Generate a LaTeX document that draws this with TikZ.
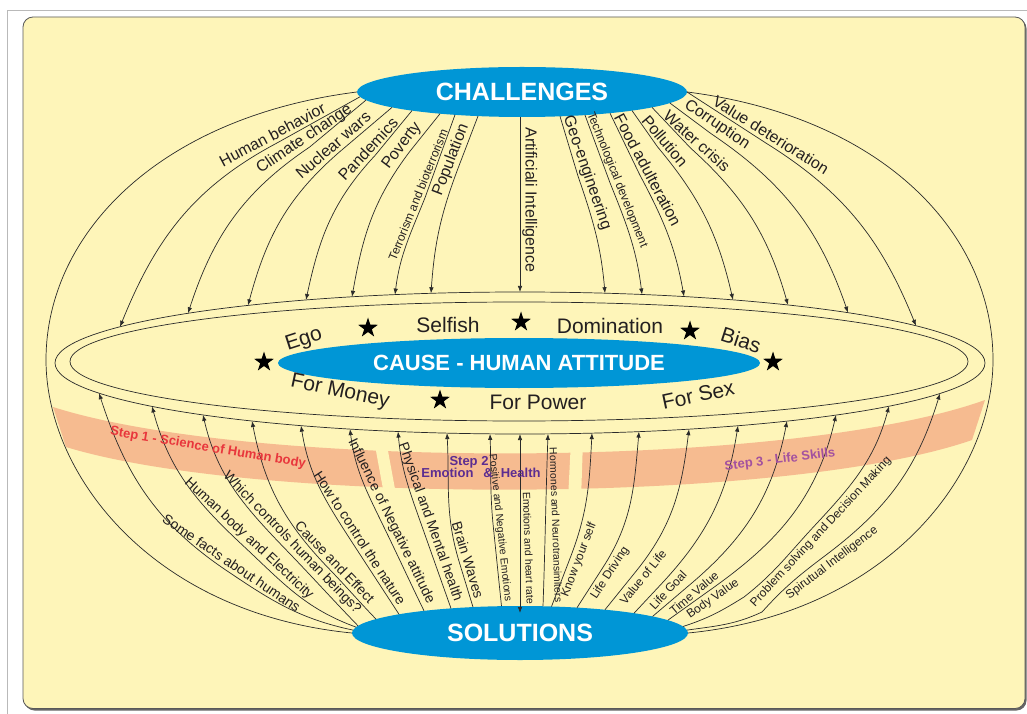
\documentclass[tikz,border=0pt]{standalone}
\usepackage{fontspec}
\setmainfont{Liberation Sans}
\usetikzlibrary{shapes.geometric,arrows.meta}
\definecolor{bgc}{HTML}{FEF5B9}
\definecolor{bluec}{HTML}{0096D6}
\definecolor{salmonc}{HTML}{F6BB90}
\definecolor{linec}{HTML}{2A2A2A}
\definecolor{txtc}{HTML}{231F20}
\definecolor{sonec}{HTML}{E8363C}
\definecolor{stwoc}{HTML}{5C2D91}
\definecolor{sthreec}{HTML}{A3519F}
\begin{document}
\begin{tikzpicture}[x=1pt,y=1pt,
  ln/.style={draw=linec, line width=0.7pt},
  arr/.style={ln, -{Latex[length=6pt,width=4.5pt]}},
  tl/.style={font=\fontsize{16}{17}\selectfont, text=txtc, inner sep=0pt},
  bl/.style={font=\fontsize{14}{15}\selectfont, text=txtc, inner sep=0pt},
  sl/.style={font=\fontsize{12}{12}\selectfont, text=txtc, inner sep=0pt},
  vl/.style={font=\fontsize{10.5}{11}\selectfont, text=txtc, inner sep=0pt},
  ml/.style={font=\fontsize{21}{21}\selectfont, text=txtc, inner sep=0pt},
  blueell/.style={ellipse, fill=bluec, inner sep=0pt, text=white, font=\bfseries\fontsize{25}{25}\selectfont},
  steplbl/.style={font=\bfseries\fontsize{13}{13}\selectfont, inner sep=0pt},
  starn/.style={star, star points=5, star point ratio=2.6, fill=black, inner sep=0pt, minimum size=21pt}
]
\useasboundingbox (0,0) rectangle (1027,713);
\fill[white] (0,0) rectangle (1027,713);
% frame
\draw[gray!55, line width=0.8pt] (7,-5) -- (7,703) -- (1040,703);
% shadow + box
\fill[gray!80!black, rounded corners=10pt] (24.5,2.5) rectangle (1026.5,694.5);
\filldraw[fill=bgc, draw=gray!70!black, line width=0.8pt, rounded corners=10pt] (23,4.5) rectangle (1025,696);

% salmon band
\fill[salmonc] (53,306) .. controls (250,243) and (790,243) .. (985,313) -- (972,273) .. controls (785,208) and (255,208) .. (66,266) -- cycle;
\fill[bgc] (374,273) -- (386,273) -- (397,213) -- (385,213) -- cycle;
\fill[bgc] (571,273) -- (583,273) -- (581,213) -- (568,213) -- cycle;

% equator rings
\draw[ln] (520,350) ellipse [x radius=465pt, y radius=71pt];
\draw[ln] (519,351.5) ellipse [x radius=449pt, y radius=59.5pt];

% pole nodes
\node[blueell, minimum width=330pt, minimum height=50pt] (ch) at (522,621) {CHALLENGES};
\node[blueell, minimum width=336pt, minimum height=54pt] (so) at (520,80) {SOLUTIONS};
\node[blueell, minimum width=482pt, minimum height=50pt, font=\bfseries\fontsize{22}{22}\selectfont] (ca) at (519,350) {CAUSE - HUMAN ATTITUDE};

% globe outline
\draw[ln] (ch.west) .. controls (160,596) and (46,480) .. (46,353) .. controls (46,240) and (150,100) .. (so.west);
\draw[ln] (ch.east) .. controls (883,596) and (993,480) .. (993,353) .. controls (993,240) and (890,100) .. (so.east);

% ---------- top meridians: start, foot of label, arrow end ----------
\foreach \n/\sx/\sy/\fx/\fy/\tau/\ex/\ey/\i in {
 1/360/616.2/276.8/569.9/208/120/386.2/68,
 2/366/612.9/309.7/566/214/188/399.7/72,
 3/392/605.6/339.2/560.8/221/248/407.6/75,
 4/412/602.4/375/557.5/227/306/413/78,
 5/440/599.3/409.6/561.3/233/352/416.2/80,
 6/455/598.2/425/515.2/248/395/418.4/83,
 7/478/596.9/459.9/549.6/249/431/419.7/86,
 9/560/596.7/578/536.9/-71/605/419.8/95,
 10/585/597.9/610/530.2/-68/642/418.5/97,
 11/610/599.8/639.6/538.5/-62/684/416.5/100,
 12/632/602.4/657.7/565.9/-50/733/413.1/103,
 13/652/605.6/690.6/564.9/-42/788/408/106,
 14/670/609.9/711.1/579.3/-34/848/400.4/109,
 15/687/621/766/569.9/-32/916/387.2/112}
{
 \coordinate (tS\n) at (\sx,\sy);
 \coordinate (tF\n) at (\fx,\fy);
 \coordinate (tE\n) at (\ex,\ey);
 \draw[arr] (tS\n) -- (tF\n) to[out=\tau,in=\i] (tE\n);
}
\coordinate (tS8) at (520,596);
\coordinate (tE8) at (520,421);
\draw[arr] (tS8) -- (tE8);

% top labels
\node[tl, rotate=28] (l1) at (272.3,578.3) {Human behavior};
\node[tl, rotate=34] (l2) at (304.4,573.9) {Climate change};
\node[tl, rotate=41] (l3) at (333,568) {Nuclear wars};
\node[tl, rotate=47] (l4) at (368,564) {Pandemics};
\node[tl, rotate=53] (l5) at (402,567) {Poverty};
\node[sl, rotate=68] (l6) at (418,518) {Terrorism and bioterrorism};
\node[tl, rotate=69] (l7) at (451,553) {Population};
\node[tl, rotate=-90, anchor=south] (l8) at (522,513) {Artificiali Intelligence};
\node[tl, rotate=-71] (l9) at (587,540) {Geo-engineering};
\node[sl, rotate=-68] (l10) at (617,533) {Technological development};
\node[tl, rotate=-62] (l11) at (648,543) {Food adulteration};
\node[tl, rotate=-50] (l12) at (665,572) {Pollution};
\node[tl, rotate=-42] (l13) at (697,572) {Water crisis};
\node[tl, rotate=-34] (l14) at (717,588) {Corruption};
\node[tl, rotate=-32] (l15) at (771,578) {Value deterioration};

% ---------- bottom-left meridians ----------
\foreach \n/\sx/\sy/\o/\fx/\fy/\tau/\ex/\ey/\i in {
 1/353/82.9/168/226.6/142.4/146/99/319.8/-72,
 2/356/85.9/160/242.9/167.5/137/152/306.6/-75,
 3/358/87.2/134/285.5/163.8/134/203/298.1/-77,
 4/376/93.9/134/328.5/144.8/134/252/292/-79,
 5/399/98.7/123/352.5/170.1/123/301/287.4/-81,
 6/424/102.2/116/382.9/188/116/350/283.9/-83,
 7/451/104.6/109.5/421.5/188/109.5/398/281.5/-85,
 8/473/105.9/107/459.4/150.4/107/447/279.9/-87,
 9/501.5/106.8/96/493.5/184.3/96/490/279.1/-88}
{
 \coordinate (bS\n) at (\sx,\sy);
 \coordinate (bF\n) at (\fx,\fy);
 \coordinate (bE\n) at (\ex,\ey);
 \pgfmathsetmacro{\back}{\tau+180}
 \draw[arr] (bS\n) to[out=\o,in=\back] (bF\n) to[out=\tau,in=\i] (bE\n);
}
% ---------- bottom-right meridians ----------
\foreach \n/\sx/\sy/\fx/\fy/\tau/\ex/\ey/\i in {
 12/551.5/106.5/570.6/156.2/69/592/279.9/-93,
 13/577/105.3/602.5/144.9/57/639/281.4/-95,
 14/605/103.3/636/141.7/51/689/283.8/-97,
 15/634/99.8/661.4/129.1/47/738/287.3/-99,
 16/652.6/96.6/688.2/126.9/40/787/291.9/-101,
 17/668/92.9/707.8/121.4/35/836/298/-103}
{
 \coordinate (bS\n) at (\sx,\sy);
 \coordinate (bF\n) at (\fx,\fy);
 \coordinate (bE\n) at (\ex,\ey);
 \draw[arr] (bS\n) -- (bF\n) to[out=\tau,in=\i] (bE\n);
}
\coordinate (bS18) at (683,86.5);
\coordinate (bG18) at (744,116);
\coordinate (bF18) at (814.4,187.1);
\coordinate (bE18) at (889,306.8);
\draw[arr] (bS18) to[out=18,in=212] (bG18) to[out=38,in=227] (bF18) to[out=47,in=-105] (bE18);
\coordinate (bS19) at (687,82.9);
\coordinate (bG19) at (762,101);
\coordinate (bF19) at (826,158);
\coordinate (bE19) at (940,319.5);
\draw[arr] (bS19) to[out=8,in=205] (bG19) to[out=48,in=217] (bF19) to[out=37,in=-107] (bE19);
\coordinate (bS11) at (543,106.8);
\coordinate (bE11) at (548,279.1);
\draw[arr] (bS11) to[out=88,in=-92] (bE11);
\coordinate (bE10) at (520,279);
\coordinate (bS10) at (520,100);
\draw[ln, {Latex[length=6pt,width=4.5pt]}-{Latex[length=6pt,width=4.5pt]}] (bE10) -- (bS10);

% bottom labels
\node[bl, rotate=-34] (b1) at (231.6,149.9) {Some facts about humans};
\node[bl, rotate=-43] (b2) at (249,174.1) {Human body and Electricity};
\node[bl, rotate=-46] (b3) at (292,170) {Which controls human beings?};
\node[bl, rotate=-46] (b4) at (335,151) {Cause and Effect};
\node[bl, rotate=-57] (b5) at (360,175) {How to control the nature};
\node[bl, rotate=-64] (b6) at (391,192) {Influence of Negative attitude};
\node[bl, rotate=-70.5] (b7) at (430,191) {Physical and Mental health};
\node[bl, rotate=-73] (b8) at (468,153) {Brain Waves};
\node[vl, rotate=-84] (b9) at (500,185) {Positive and Negative Emotions};
\node[vl, rotate=-88] (b10) at (528.5,165) {Emotions and heart rate};
\node[vl, rotate=-88] (b11) at (556,188) {Hormones and Neurotransimiters};
\node[sl, rotate=69] (b12) at (579,153) {Know your self};
\node[sl, rotate=57] (b13) at (610,140) {Life Driving};
\node[sl, rotate=51] (b14) at (643,136) {Value of Life};
\node[sl, rotate=47] (b15) at (668,123) {Life Goal};
\node[sl, rotate=40] (b16) at (694,120) {Time Value};
\node[sl, rotate=35] (b17) at (713,114) {Body Value};
\node[sl, rotate=47] (b18) at (821,181) {Problem solving and Decision Making};
\node[sl, rotate=37] (b19) at (832,150) {Spirutual Intelligence};

% middle labels
\node[ml, rotate=18] (m1) at (304,373) {Ego};
\node[ml] (m2) at (448,388) {Selfish};
\node[ml] (m3) at (610,387) {Domination};
\node[ml, rotate=-18] (m4) at (741,373) {Bias};
\node[ml, rotate=-12] (m5) at (340,321) {For Money};
\node[ml] (m6) at (538,311) {For Power};
\node[ml, rotate=12] (m7) at (698,318) {For Sex};
\node[starn] (s1) at (368,385) {};
\node[starn] (s2) at (521,391) {};
\node[starn] (s3) at (690,382) {};
\node[starn] (s4) at (264,351) {};
\node[starn] (s5) at (773,351) {};
\node[starn] (s6) at (440,313) {};

% step labels
\node[steplbl, text=sonec, rotate=-9.5] (st1) at (208,265) {Step 1 - Science of Human body};
\node[steplbl, text=stwoc] (st2) at (469,251) {Step 2};
\node[steplbl, text=stwoc] (st2b) at (481,240) {Emotion\hspace{10pt}\&\hspace{8pt}Health};
\node[steplbl, text=sthreec, rotate=7] (st3) at (780,253) {Step 3 - Life Skills};
\end{tikzpicture}
\end{document}
